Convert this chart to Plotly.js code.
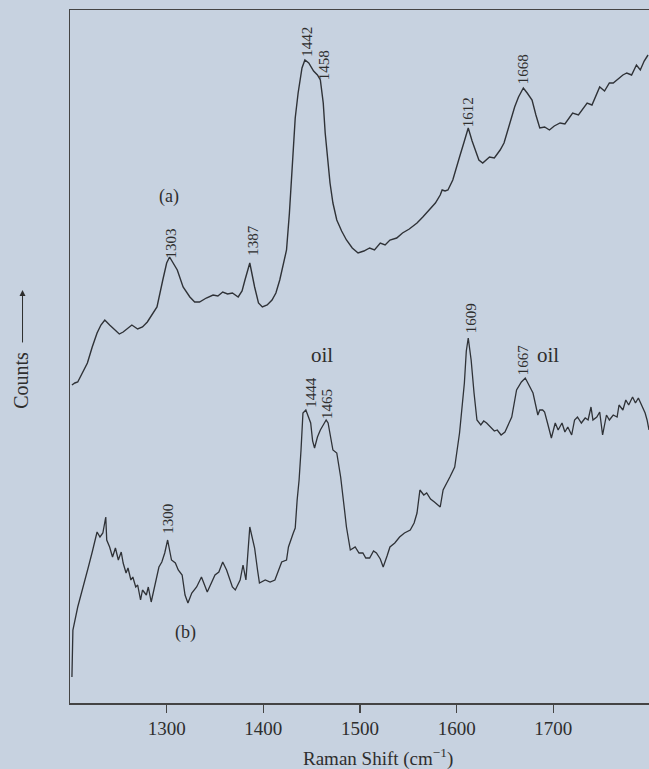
<!DOCTYPE html>
<html>
<head>
<meta charset="utf-8">
<script src="https://cdn.plot.ly/plotly-3.0.1.min.js"></script>
<style>html,body{margin:0;padding:0;background:#c7d2e0;}#chart{width:649px;height:769px;}</style>
</head>
<body>
<div id="chart"></div>
<script>
// Spectrum (a): Raman shift (cm-1) and counts (arbitrary units)
const shiftA = [1202,1205,1208,1213,1218,1223,1228,1232,1236,1241,1247,1251,1255,1260,1264,1270,1275,1280,1285,1290,1296,1300,1303,1307,1311,1317,1324,1329,1334,1341,1348,1353,1358,1363,1368,1374,1378,1381,1386,1391,1395,1399,1404,1409,1413,1417,1421,1424,1427,1430,1433,1436,1440,1443,1447,1452,1456,1459,1462,1464,1467,1469,1472,1476,1481,1486,1492,1498,1504,1510,1515,1521,1526,1531,1538,1544,1551,1559,1565,1572,1578,1583,1585,1588,1591,1596,1600,1603,1608,1612,1616,1619,1623,1627,1631,1634,1639,1645,1649,1652,1656,1660,1664,1669,1673,1678,1682,1686,1691,1696,1701,1707,1712,1716,1720,1726,1731,1735,1740,1744,1748,1753,1758,1762,1767,1772,1776,1781,1786,1790,1794,1798];
const countsA = [318,320,321,330,340,356,370,378,383,378,373,369,371,375,378,374,376,381,388,396,423,440,446,440,433,416,406,401,401,405,408,407,411,409,410,406,412,423,440,416,400,396,398,403,410,423,440,453,490,540,585,610,635,643,640,632,628,623,600,570,540,520,500,483,472,463,455,450,452,455,453,460,458,463,465,470,474,480,486,493,500,508,513,512,513,523,535,546,562,575,562,553,543,540,544,546,545,553,560,570,582,596,606,615,610,603,588,575,576,573,577,580,579,584,590,588,594,600,598,608,616,612,620,620,624,628,630,628,638,633,642,648];

// Spectrum (b)
const shiftB = [1202,1203,1208,1212,1216,1219,1223,1226,1228,1231,1234,1237,1238,1241,1244,1247,1250,1253,1255,1258,1260,1263,1265,1268,1270,1273,1275,1279,1281,1284,1286,1290,1292,1295,1298,1301,1305,1309,1312,1316,1319,1322,1326,1331,1336,1342,1347,1350,1354,1358,1362,1368,1371,1376,1379,1382,1386,1391,1394,1396,1402,1407,1412,1415,1419,1424,1426,1431,1433,1435,1437,1439,1441,1444,1446,1449,1451,1453,1456,1459,1462,1465,1467,1470,1472,1476,1480,1484,1486,1490,1495,1499,1503,1506,1510,1514,1517,1521,1524,1528,1531,1536,1541,1546,1552,1556,1559,1562,1566,1569,1573,1577,1580,1583,1586,1590,1593,1598,1603,1608,1610,1612,1615,1618,1621,1625,1628,1631,1635,1639,1642,1646,1650,1653,1657,1662,1667,1671,1675,1679,1684,1686,1689,1691,1694,1698,1702,1705,1709,1712,1715,1719,1722,1725,1729,1733,1736,1739,1741,1745,1748,1751,1755,1758,1762,1766,1768,1772,1775,1778,1782,1785,1788,1793,1795,1797,1799];
const countsB = [26,73,96,110,123,136,151,165,171,166,170,186,163,156,146,155,143,151,140,130,135,123,126,116,118,103,113,108,116,101,110,126,136,141,150,163,143,140,133,128,108,100,110,116,126,111,121,128,131,141,133,116,113,123,138,123,176,155,133,120,123,121,123,130,141,143,156,170,175,203,223,253,290,293,288,280,262,255,266,273,278,283,280,262,253,250,226,193,176,153,156,150,150,145,145,152,150,144,136,147,156,160,166,170,173,180,190,213,208,210,204,201,198,196,213,220,226,236,270,320,352,365,343,310,283,278,282,280,276,272,273,268,271,278,286,313,321,325,318,310,288,293,293,291,280,265,280,273,280,271,276,268,283,286,280,285,283,296,283,286,291,268,288,283,288,286,298,293,303,298,306,300,305,295,290,283,273];

// Peak and panel labels: text, shift, counts
const labelText  = ['1442','1458','1612','1668','1303','1387','1444','1465','1609','1667','1300'];
const labelShift = [1445,1463,1612,1669,1305,1389,1449,1466,1615,1669,1301];
const labelCount = [661,638,591,634,460,463,311,299,385,343,184];

const lineColor = '#2f3237';
const bg = '#c7d2e0';
const serif = 'Liberation Serif, DejaVu Serif, serif';
const txt = '#2e2e2e';

const traces = [
  {x: shiftA, y: countsA, type: 'scatter', mode: 'lines', line: {color: lineColor, width: 1.4}, hoverinfo: 'skip'},
  {x: shiftB, y: countsB, type: 'scatter', mode: 'lines', line: {color: lineColor, width: 1.3}, hoverinfo: 'skip'}
];

const annotations = labelText.map((t, i) => ({
  text: t, x: labelShift[i], y: labelCount[i], xref: 'x', yref: 'y',
  textangle: -90, showarrow: false, xanchor: 'center', yanchor: 'middle',
  font: {family: serif, size: 15, color: txt}
}));
annotations.push(
  {text: '(a)', x: 1302, y: 507, xref: 'x', yref: 'y', showarrow: false, font: {family: serif, size: 18, color: txt}},
  {text: '(b)', x: 1319, y: 71, xref: 'x', yref: 'y', showarrow: false, font: {family: serif, size: 18, color: txt}},
  {text: 'oil', x: 1461, y: 348, xref: 'x', yref: 'y', showarrow: false, font: {family: serif, size: 21, color: txt}},
  {text: 'oil', x: 1694, y: 348, xref: 'x', yref: 'y', showarrow: false, font: {family: serif, size: 21, color: txt}},
  {text: 'Raman Shift (cm<sup>−1</sup>)', x: 0.532, y: -0.078, xref: 'paper', yref: 'paper', showarrow: false,
   xanchor: 'center', yanchor: 'middle', font: {family: serif, size: 19, color: txt}},
  {text: 'Counts', x: -0.085, y: 0.466, xref: 'paper', yref: 'paper', showarrow: false, textangle: -90,
   xanchor: 'center', yanchor: 'middle', font: {family: serif, size: 20, color: txt}},
  {text: '', x: -0.082, y: 0.596, xref: 'paper', yref: 'paper', showarrow: true, ax: 0, ay: 54,
   arrowhead: 2, arrowsize: 1.2, arrowwidth: 1, arrowcolor: txt}
);

const layout = {
  width: 649, height: 769,
  margin: {l: 70, r: 0, t: 10, b: 66},
  paper_bgcolor: bg, plot_bgcolor: bg,
  showlegend: false,
  xaxis: {
    range: [1200, 1799], showgrid: false, zeroline: false,
    showline: true, linecolor: '#444', linewidth: 1.5, mirror: true,
    ticks: 'outside', ticklen: 8, tickwidth: 1.2, tickcolor: '#444',
    tickvals: [1300, 1400, 1500, 1600, 1700],
    ticktext: ['1300', '1400', '1500', '1600', '1700'],
    tickfont: {family: serif, size: 19, color: txt}
  },
  yaxis: {
    range: [0, 693], showgrid: false, zeroline: false,
    showline: true, linecolor: '#444', linewidth: 1.5,
    showticklabels: false, ticks: ''
  },
  annotations: annotations
};

Plotly.newPlot('chart', traces, layout, {displayModeBar: false, staticPlot: true});
</script>
</body>
</html>
